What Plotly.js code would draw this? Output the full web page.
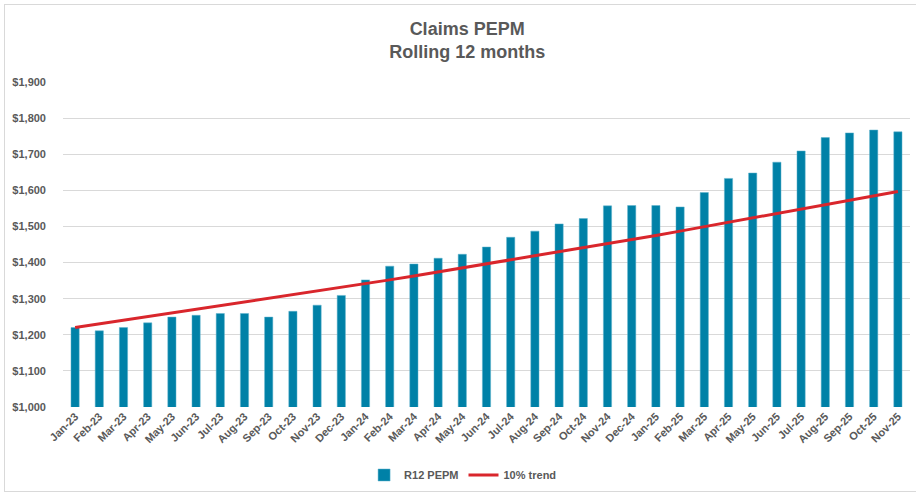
<!DOCTYPE html>
<html><head><meta charset="utf-8">
<script src="https://cdn.plot.ly/plotly-3.0.1.min.js"></script>
<style>
html,body{margin:0;padding:0;background:#fff;}
#wrap{position:relative;width:916px;height:495px;overflow:hidden;}
#chart{position:absolute;left:0;top:0;width:916px;height:495px;}
#frame{position:absolute;left:4px;top:4px;width:920px;height:486px;border:1px solid #d9d9d9;pointer-events:none;}
</style></head>
<body>
<div id="wrap"><div id="chart"></div><div id="frame"></div></div>
<script>
const months = ["Jan-23","Feb-23","Mar-23","Apr-23","May-23","Jun-23","Jul-23","Aug-23","Sep-23","Oct-23","Nov-23","Dec-23",
"Jan-24","Feb-24","Mar-24","Apr-24","May-24","Jun-24","Jul-24","Aug-24","Sep-24","Oct-24","Nov-24","Dec-24",
"Jan-25","Feb-25","Mar-25","Apr-25","May-25","Jun-25","Jul-25","Aug-25","Sep-25","Oct-25","Nov-25"];
const r12Pepm = [1220,1211,1220,1233,1249,1254,1259,1259,1249,1265,1282,1309,
1352,1390,1396,1412,1423,1443,1470,1487,1507,1522,1557,1558,
1558,1554,1594,1633,1648,1678,1709,1746,1759,1767,1762];
const trend10 = [1220,1230,1240,1250,1260,1270,1280,1290,1300,1310,1321,1331,
1342,1352,1363,1374,1385,1396,1407,1418,1430,1441,1452,1464,
1475,1487,1499,1511,1523,1535,1547,1560,1572,1585,1597];
const seriesNames = ["R12 PEPM","10% trend"];

const FONT = "Liberation Sans, Arial, sans-serif";
const GREY = "#595959";

const traces = [
  {type:"bar", x:months, y:r12Pepm, name:seriesNames[0], width:0.34,
   marker:{color:"#0081a7", line:{color:"#5fb3cc", width:0.5}}},
  {type:"scatter", mode:"lines", x:months, y:trend10, name:seriesNames[1],
   line:{color:"#d9262c", width:3}}
];

const layout = {
  width:916, height:495,
  margin:{l:63, r:6, t:82, b:88},
  paper_bgcolor:"#fff", plot_bgcolor:"#fff",
  font:{family:FONT, color:GREY, size:11},
  title:{text:"<b>Claims PEPM</b><br><b>Rolling 12 months</b>", font:{family:FONT, size:18, color:GREY},
         x:0.51, xanchor:"center", xref:"container", y:1-35/495, yanchor:"middle", yref:"container",
         automargin:false},
  xaxis:{type:"category", tickangle:-45, tickfont:{family:FONT, size:11, color:GREY, weight:"bold"},
         showgrid:false, showline:false, ticks:"", zeroline:false, fixedrange:true},
  yaxis:{range:[1000,1900], dtick:100, tick0:1000, tickprefix:"$", separatethousands:true, tickformat:",d",
         showgrid:true, gridcolor:"#d9d9d9", gridwidth:1, zeroline:false, showline:false, ticks:"",
         ticklabelstandoff:16,
         tickfont:{family:FONT, size:11, color:GREY, weight:"bold"}, fixedrange:true},
  legend:{orientation:"h", xref:"container", yref:"container", x:0.505, xanchor:"center", y:1-475/495, yanchor:"middle",
          font:{family:FONT, size:11, color:GREY, weight:"bold"}, traceorder:"normal"},
  showlegend:true,
  bargap:0.6
};
Plotly.newPlot("chart", traces, layout, {staticPlot:true, displayModeBar:false});
</script>
</body></html>
